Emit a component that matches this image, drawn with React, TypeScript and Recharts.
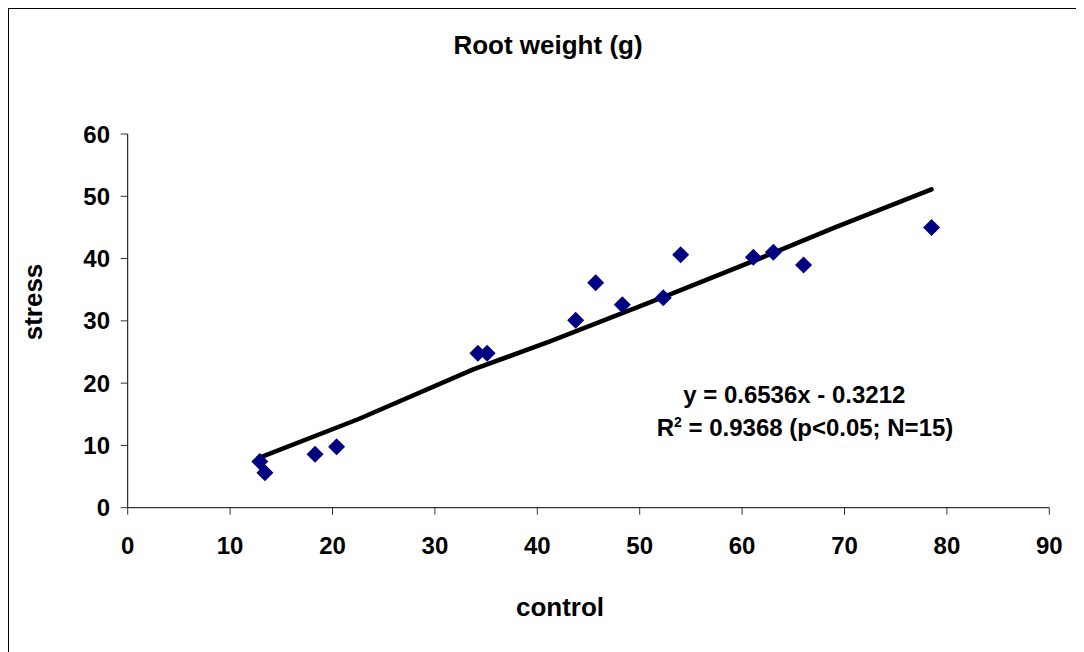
import React from 'react';
import { ScatterChart, Scatter, XAxis, YAxis } from 'recharts';

const controlValues = [12.9, 13.4, 18.3, 20.4, 34.2, 35.1, 43.75, 45.7, 48.3, 52.3, 54.0, 61.1, 63.05, 66.0, 78.5];
const stressValues = [7.4, 5.6, 8.6, 9.8, 24.8, 24.8, 30.1, 36.1, 32.6, 33.7, 40.6, 40.2, 41.0, 38.96, 45.0];

// Trend line as drawn in the picture
const trendX = [12.75, 22.5, 33.75, 41.24, 52.3, 63.05, 69.2, 78.5];
const trendY = [7.95, 14.2, 22.2, 26.7, 33.8, 40.9, 45.1, 51.1];

const xTicks = [0, 10, 20, 30, 40, 50, 60, 70, 80, 90];
const yTicks = [0, 10, 20, 30, 40, 50, 60];

const points = controlValues.map((x, i) => ({ x, y: stressValues[i] }));
const trend = trendX.map((x, i) => ({ x, y: trendY[i] }));

const FONT = '"Liberation Sans", Arial, sans-serif';

const Diamond = (props: any) => {
  const { cx, cy } = props;
  if (cx == null || cy == null) return null;
  const r = 8.5;
  return (
    <polygon
      points={`${cx},${cy - r} ${cx + r},${cy} ${cx},${cy + r} ${cx - r},${cy}`}
      fill="#000080"
    />
  );
};

const NoShape = () => null;

export default function App() {
  return (
    <div style={{ border: '1px solid #000', width: 1100, height: 700, boxSizing: 'border-box' }}>
      <ScatterChart
        width={1075}
        height={643}
        margin={{ top: 125, right: 34.7, left: 58.7, bottom: 104.3 }}
        style={{ fontFamily: FONT }}
      >
        <XAxis
          type="number"
          dataKey="x"
          domain={[0, 90]}
          ticks={xTicks}
          allowDataOverflow
          height={40}
          axisLine={{ stroke: '#000', strokeWidth: 1 }}
          tickLine={{ stroke: '#333', strokeWidth: 1 }}
          tickSize={7}
          tickMargin={22}
          tick={{ fill: '#000', fontSize: 24, fontWeight: 'bold', fontFamily: FONT }}
        />
        <YAxis
          type="number"
          dataKey="y"
          domain={[0, 60]}
          ticks={yTicks}
          allowDataOverflow
          width={60}
          axisLine={{ stroke: '#000', strokeWidth: 1 }}
          tickLine={{ stroke: '#333', strokeWidth: 1 }}
          tickSize={7}
          tickMargin={10.7}
          tick={{ fill: '#000', fontSize: 24, fontWeight: 'bold', fontFamily: FONT }}
        />
        <Scatter
          data={trend}
          line={{ stroke: '#000', strokeWidth: 4.5, strokeLinecap: 'round', strokeLinejoin: 'round' } as any}
          shape={NoShape as any}
          isAnimationActive={false}
        />
        <Scatter data={points} shape={Diamond} isAnimationActive={false} />
        <text x={539} y={45.3} textAnchor="middle" fontSize={26} fontWeight="bold" fontFamily={FONT} fill="#000">
          Root weight (g)
        </text>
        <text
          x={24}
          y={293}
          textAnchor="middle"
          dominantBaseline="central"
          transform="rotate(-90, 24, 293)"
          fontSize={26}
          fontWeight="bold"
          fontFamily={FONT}
          fill="#000"
        >
          stress
        </text>
        <text x={551} y={598} textAnchor="middle" dominantBaseline="central" fontSize={26} fontWeight="bold" fontFamily={FONT} fill="#000">
          control
        </text>
        <text x={785.3} y={394.3} textAnchor="middle" fontSize={24} fontWeight="bold" fontFamily={FONT} fill="#000">
          y = 0.6536x - 0.3212
        </text>
        <text x={796} y={426.7} textAnchor="middle" fontSize={24} fontWeight="bold" fontFamily={FONT} fill="#000">
          R<tspan dy={-9} fontSize={14}>2</tspan>
          <tspan dy={9}> = 0.9368 (p&lt;0.05; N=15)</tspan>
        </text>
      </ScatterChart>
    </div>
  );
}
